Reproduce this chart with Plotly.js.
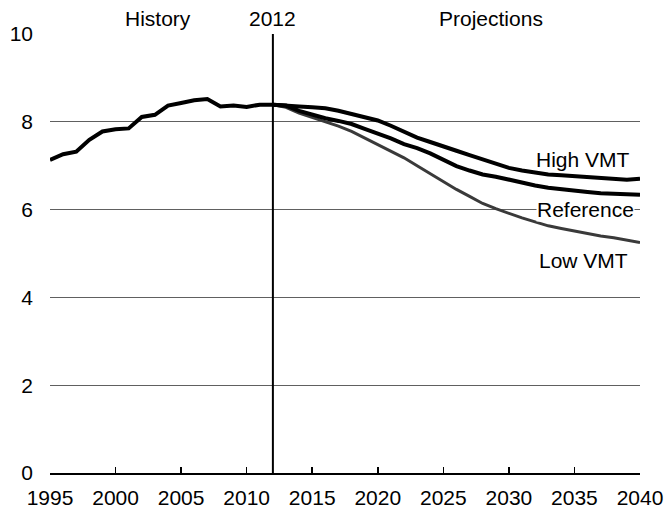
<!DOCTYPE html>
<html>
<head>
<meta charset="utf-8">
<script src="https://cdn.plot.ly/plotly-3.0.1.min.js"></script>
<style>html,body{margin:0;padding:0;background:#fff}#chart{width:667px;height:510px}</style>
</head>
<body>
<div id="chart"></div>
<script>
const histYears = [1995,1996,1997,1998,1999,2000,2001,2002,2003,2004,2005,2006,2007,2008,2009,2010,2011,2012];
const histValues = [7.13,7.26,7.32,7.59,7.78,7.83,7.85,8.11,8.16,8.37,8.43,8.49,8.52,8.35,8.37,8.34,8.39,8.39];

const projYears = [2012,2013,2014,2015,2016,2017,2018,2019,2020,2021,2022,2023,2024,2025,2026,2027,2028,2029,2030,2031,2032,2033,2034,2035,2036,2037,2038,2039,2040];
const highVMT = [8.39,8.38,8.35,8.33,8.31,8.25,8.18,8.11,8.03,7.91,7.77,7.64,7.54,7.43,7.34,7.24,7.14,7.05,6.95,6.89,6.84,6.80,6.78,6.76,6.74,6.71,6.68,6.68,6.70];
const reference = [8.39,8.37,8.25,8.16,8.08,8.02,7.95,7.84,7.74,7.62,7.49,7.40,7.28,7.14,6.99,6.89,6.80,6.75,6.68,6.61,6.55,6.50,6.46,6.43,6.40,6.37,6.36,6.35,6.34];
const lowVMT = [8.39,8.33,8.20,8.10,8.00,7.90,7.78,7.63,7.48,7.34,7.18,7.00,6.82,6.64,6.46,6.30,6.14,6.02,5.91,5.81,5.72,5.63,5.57,5.51,5.46,5.40,5.36,5.31,5.25];

const seriesLabels = ["High VMT","Reference","Low VMT"];
const xTicks = [1995,2000,2005,2010,2015,2020,2025,2030,2035,2040];
const yTicks = [0,2,4,6,8,10];

const font = {family: "Liberation Sans, Arial, sans-serif", size: 21, color: "#000"};

const traces = [
  {x: projYears, y: lowVMT, mode: "lines", line: {color: "#3a3a3a", width: 3}, hoverinfo: "skip"},
  {x: projYears, y: reference, mode: "lines", line: {color: "#000", width: 4}, hoverinfo: "skip"},
  {x: projYears, y: highVMT, mode: "lines", line: {color: "#000", width: 4}, hoverinfo: "skip"},
  {x: histYears, y: histValues, mode: "lines", line: {color: "#000", width: 4}, hoverinfo: "skip"}
];

const layout = {
  width: 667, height: 510,
  margin: {l: 50, r: 27, t: 34, b: 37},
  paper_bgcolor: "#fff", plot_bgcolor: "#fff",
  showlegend: false,
  font: font,
  xaxis: {
    range: [1995, 2040], tickvals: xTicks, ticktext: xTicks.map(String),
    ticks: "inside", ticklen: 6, tickwidth: 1.5, tickcolor: "#000",
    showgrid: false, zeroline: false, showline: true, linecolor: "#000", linewidth: 1.5,
    ticklabelstandoff: 5,
    tickfont: font, fixedrange: true
  },
  yaxis: {
    range: [0, 10], tickvals: yTicks, ticktext: yTicks.map(String),
    ticks: "", showgrid: true, gridcolor: "#606060", gridwidth: 1,
    zeroline: false, showline: false, ticklabelstandoff: 16,
    tickfont: font, fixedrange: true
  },
  shapes: [
    {type: "line", xref: "x", yref: "paper", x0: 2012, x1: 2012, y0: 0, y1: 1, line: {color: "#000", width: 2}}
  ],
  annotations: [
    {text: "History", xref: "x", yref: "paper", x: 2003.2, y: 1.035, showarrow: false, font: font, yanchor: "middle"},
    {text: "2012", xref: "x", yref: "paper", x: 2012, y: 1.035, showarrow: false, font: font, yanchor: "middle"},
    {text: "Projections", xref: "x", yref: "paper", x: 2028.6, y: 1.035, showarrow: false, font: font, yanchor: "middle"},
    {text: seriesLabels[0], xref: "x", yref: "y", x: 2039.4, y: 7.15, xanchor: "right", showarrow: false, font: font},
    {text: seriesLabels[1], xref: "x", yref: "y", x: 2039.6, y: 6.0, xanchor: "right", showarrow: false, font: font, bgcolor: "#fff", borderpad: 0},
    {text: seriesLabels[2], xref: "x", yref: "y", x: 2039.2, y: 4.85, xanchor: "right", showarrow: false, font: font}
  ]
};

Plotly.newPlot("chart", traces, layout, {staticPlot: true, displayModeBar: false});
</script>
</body>
</html>
